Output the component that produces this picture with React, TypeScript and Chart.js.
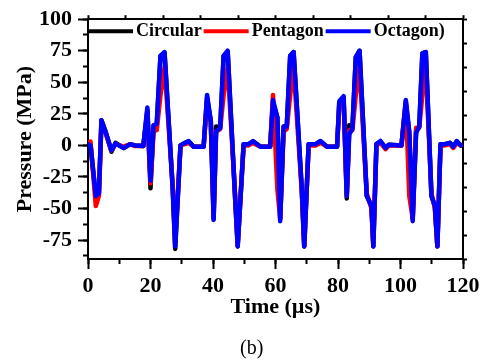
import { useEffect, useRef } from 'react';
import { Chart, registerables } from 'chart.js';

Chart.register(...registerables);

// Time (µs) sample positions shared by all three series
const times = [
  0, 0.8, 2.5, 3.5, 4.3, 5.6, 7.5, 8.8, 11.4, 13.5, 15, 17.7,
  19, 20, 21, 22, 23.2, 24.5, 27.1, 27.9, 29.6, 31, 32.2, 33.8,
  37, 38.1, 39.3, 40.2, 41, 42.3, 43.4, 44.7, 47, 47.9, 49.8, 51.4,
  52.8, 55.2, 58.3, 59.2, 60.6, 61.5, 62.6, 63.6, 64.7, 65.8, 68.4, 69.2,
  70.6, 72.8, 74.4, 76.5, 79.7, 80.4, 81.8, 82.8, 83.6, 84.6, 85.7, 86.9,
  89.2, 90.7, 91.3, 92.3, 93.6, 95.2, 96.3, 100.3, 101.7, 102.8, 103.9, 105,
  106, 107, 108.1, 109.9, 111, 111.8, 112.8, 114.2, 115.8, 116.9, 118, 119.3,
];

const circular = [
  1, 1, -40, -36, 20, 11, -5, 2, -2, 1, 0, -0.5,
  28, -34, 16, 17, 71, 73, -33, -82, 0, 2, 3, -1,
  -1, 38, 18, -58, 15, 14, 71, 74, -38, -80, 1, 1,
  3, -1, -1, 34, 22, -58, 15, 15, 71, 74, -34, -80,
  1, 1, 3, -1, -1, 33, 38, -42, 16, 14, 70, 75,
  -40, -48, -80, 1, 3, -2, 0.5, 0, 34, 10, -58, 12,
  15, 73, 74, -40, -48, -80, 1, 1, 2, -1, 3, 0,
];

const pentagon = [
  2, 3, -48, -40, 18, 10, -4, 1, -1, 1, -0.5, -0.5,
  25, -30, 12, 12, 40, 62, -32, -75, 0, 1, 2, -1,
  -1, 35, 20, -55, 11, 13, 40, 62, -36, -78, 0, 0,
  2, -1, -1, 40, -35, -58, 11, 13, 40, 61, -36, -80,
  0, 0, 2, -1, -1, 30, 37, -40, 12, 12, 40, 61,
  -38, -50, -78, 0, 2, -3, 0, 0, 35, -40, -58, 14,
  14, 40, 61, -38, -50, -80, 0, 0, 1, -2, 2, 0,
];

const octagon = [
  1, 0, -40, -38, 20, 11, -4, 1.5, -2, 1, 0, -0.5,
  30, -28, 16, 17, 71, 74, -35, -80, 0, 2, 3.5, -1,
  -1, 40, 19, -59, 11, 14, 71, 75, -38, -80, 1, 1,
  3.5, -1, -1, 36, 22, -60, 15, 15, 71, 74, -34, -80,
  1, 1, 3.5, -1, -1, 35, 39, -40, 9, 13, 70, 75,
  -40, -48, -80, 1, 3.5, -2, 0.5, 0, 36, 11, -60, 10,
  15, 73, 74, -40, -48, -80, 1, 1, 2, -1, 3.5, 0,
];

const seriesLabels = ['Circular', 'Pentagon', 'Octagon)'];
const seriesColors = ['#000000', '#ff0000', '#0000ff'];
const seriesValues = [circular, pentagon, octagon];

const xTitle = 'Time (µs)';
const yTitle = 'Pressure (MPa)';
const caption = '(b)';

const FONT = "'Liberation Serif', 'Times New Roman', serif";

const inlineLegend = {
  id: 'inlineLegend',
  afterDatasetsDraw(chart: any) {
    const { ctx, chartArea } = chart;
    ctx.save();
    ctx.font = `bold 18px ${FONT}`;
    ctx.textBaseline = 'middle';
    ctx.textAlign = 'left';
    let x = chartArea.left;
    const y = chartArea.top + 12;
    chart.data.datasets.forEach((ds: any) => {
      ctx.strokeStyle = ds.borderColor;
      ctx.lineWidth = 4;
      ctx.lineCap = 'butt';
      ctx.beginPath();
      ctx.moveTo(x, y);
      ctx.lineTo(x + 45, y);
      ctx.stroke();
      x += 48;
      ctx.fillStyle = '#000';
      ctx.fillText(ds.label, x, y);
      x += ctx.measureText(ds.label).width + 2;
    });
    ctx.restore();
  },
};

export default function App() {
  const canvasRef = useRef<HTMLCanvasElement | null>(null);

  useEffect(() => {
    if (!canvasRef.current) return;
    const tickFont = { family: FONT, size: 22, weight: 'bold' as const };
    const tickMarks = (len: number) => ({
      display: true,
      drawOnChartArea: false,
      drawTicks: true,
      tickLength: len,
      tickWidth: 2,
      tickColor: '#000',
    });
    const chart = new Chart(canvasRef.current, {
      type: 'line',
      data: {
        datasets: seriesLabels.map((label, k) => ({
          label,
          data: times.map((t, i) => ({ x: t, y: seriesValues[k][i] })),
          borderColor: seriesColors[k],
          backgroundColor: seriesColors[k],
          borderWidth: 4.5,
          pointRadius: 0,
          tension: 0,
          fill: false,
          borderJoinStyle: 'round' as const,
          borderCapStyle: 'round' as const,
          order: 2 - k,
          xAxisID: 'x',
          yAxisID: 'y',
        })),
      },
      options: {
        responsive: true,
        maintainAspectRatio: false,
        animation: false,
        layout: { padding: { left: 0, right: 0, top: 0, bottom: 43 } },
        plugins: {
          legend: { display: false },
          tooltip: { enabled: false },
        },
        scales: {
          x: {
            type: 'linear',
            position: 'bottom',
            min: 0,
            max: 120,
            weight: 1,
            ticks: {
              stepSize: 20,
              autoSkip: false,
              maxRotation: 0,
              padding: 4,
              color: '#000',
              font: tickFont,
              callback: (v: any) => String(v),
            },
            grid: tickMarks(10),
            border: { display: true, color: '#000', width: 2 },
            title: {
              display: true,
              text: xTitle,
              color: '#000',
              font: tickFont,
              padding: { top: 0, bottom: 0 },
            },
            afterFit: (s: any) => {
              s.height = 62;
            },
          },
          xMinor: {
            type: 'linear',
            position: 'bottom',
            min: 0,
            max: 120,
            weight: 0,
            ticks: { display: false, stepSize: 10 },
            grid: tickMarks(5),
            border: { display: false },
            afterFit: (s: any) => {
              s.height = 0;
            },
          },
          xTop: {
            type: 'linear',
            position: 'top',
            min: 0,
            max: 10,
            ticks: { display: false, stepSize: 1 },
            grid: tickMarks(4),
            border: { display: true, color: '#000', width: 2 },
            afterFit: (s: any) => {
              s.height = 19;
            },
          },
          y: {
            type: 'linear',
            position: 'left',
            min: -90,
            max: 100,
            weight: 1,
            ticks: {
              stepSize: 25,
              includeBounds: false,
              padding: 6,
              color: '#000',
              font: tickFont,
              callback: (v: any) => String(v),
            },
            grid: tickMarks(10),
            border: { display: true, color: '#000', width: 2 },
            title: {
              display: true,
              text: yTitle,
              color: '#000',
              font: tickFont,
              padding: { top: 12, bottom: 0 },
            },
            afterFit: (s: any) => {
              s.width = 88;
            },
          },
          yMinor: {
            type: 'linear',
            position: 'left',
            min: -90,
            max: 100,
            weight: 0,
            ticks: { display: false, stepSize: 12.5, includeBounds: false },
            grid: tickMarks(5),
            border: { display: false },
            afterFit: (s: any) => {
              s.width = 0;
            },
          },
          yRight: {
            type: 'linear',
            position: 'right',
            min: 0,
            max: 10,
            ticks: { display: false, stepSize: 1 },
            grid: tickMarks(4),
            border: { display: true, color: '#000', width: 2 },
            afterFit: (s: any) => {
              s.width = 22;
            },
          },
        },
      } as any,
      plugins: [inlineLegend],
    });
    return () => chart.destroy();
  }, []);

  return (
    <div style={{ position: 'absolute', left: 0, top: 0, width: 485, height: 364, background: '#fff' }}>
      <canvas ref={canvasRef} />
      <div
        style={{
          position: 'absolute',
          left: 240,
          top: 336,
          fontFamily: FONT,
          fontSize: 20,
          lineHeight: '23px',
          color: '#000',
          whiteSpace: 'nowrap',
        }}
      >
        {caption}
      </div>
    </div>
  );
}
